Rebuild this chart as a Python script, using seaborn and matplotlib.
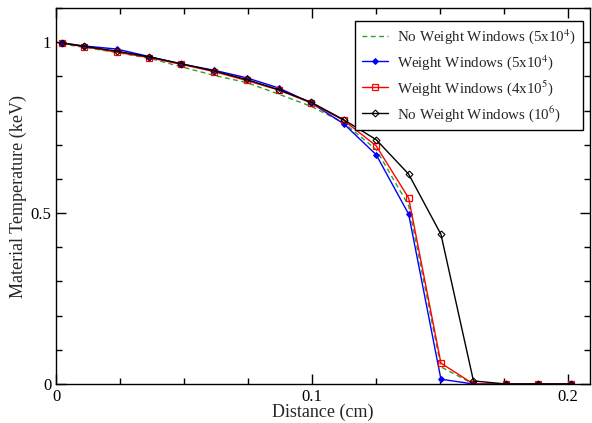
import numpy as np
import pandas as pd
import matplotlib
matplotlib.use("Agg")
import matplotlib.pyplot as plt
from matplotlib.ticker import MultipleLocator
import seaborn as sns

# Cell-centre positions (cm)
distance = [0.0023, 0.0110, 0.0237, 0.0364, 0.0490, 0.0617, 0.0744, 0.0870,
            0.0997, 0.1124, 0.1250, 0.1377, 0.1503, 0.1630, 0.1757, 0.1883, 0.2010]

# Material temperature (keV) for each run
temp_nww_5e4 = [0.995, 0.985, 0.970, 0.953, 0.928, 0.903, 0.882, 0.848,
                0.812, 0.764, 0.686, 0.522, 0.050, 0.000, 0.000, 0.000, 0.000]
temp_ww_5e4 = [0.998, 0.989, 0.980, 0.958, 0.936, 0.918, 0.896, 0.866,
               0.822, 0.761, 0.671, 0.497, 0.014, 0.000, 0.000, 0.000, 0.000]
temp_ww_4e5 = [0.997, 0.987, 0.971, 0.955, 0.935, 0.914, 0.888, 0.860,
               0.822, 0.771, 0.697, 0.544, 0.061, 0.000, 0.000, 0.000, 0.000]
temp_nww_1e6 = [0.998, 0.988, 0.974, 0.957, 0.937, 0.916, 0.891, 0.861,
                0.824, 0.773, 0.715, 0.614, 0.438, 0.009, 0.000, 0.000, 0.000]

labels = ["No Weight Windows (5x10$^4$)",
          "Weight Windows (5x10$^4$)",
          "Weight Windows (4x10$^5$)",
          "No Weight Windows (10$^6$)"]

sns.set_style("ticks")
plt.rcParams["font.family"] = ["Liberation Serif", "DejaVu Serif"]
plt.rcParams["mathtext.fontset"] = "stix"

fig = plt.figure(figsize=(5.92, 4.23), dpi=100)
ax = fig.add_axes([0.0946, 0.0922, 0.9020, 0.8888])

sns.lineplot(x=distance, y=temp_nww_5e4, ax=ax, color="#2ca02c", lw=1.0,
             linestyle=(0, (3.5, 2.5)), label=labels[0])
sns.lineplot(x=distance, y=temp_ww_5e4, ax=ax, color="#0000ff", lw=1.0,
             marker="D", markersize=3, markerfacecolor="#0000ff",
             markeredgecolor="#0000ff", label=labels[1])
sns.lineplot(x=distance, y=temp_ww_4e5, ax=ax, color="#ff0000", lw=1.0,
             marker="s", markersize=4.5, markerfacecolor="none",
             markeredgecolor="#ff0000", markeredgewidth=0.9, label=labels[2])
sns.lineplot(x=distance, y=temp_nww_1e6, ax=ax, color="black", lw=1.0,
             marker="D", markersize=3.5, markerfacecolor="none",
             markeredgecolor="black", markeredgewidth=0.8, label=labels[3])

ax.set_xlim(0, 0.2085)
ax.set_ylim(0, 1.1)
ax.set_xticks([0, 0.1, 0.2])
ax.set_xticklabels(["0", "0.1", "0.2"])
ax.set_yticks([0, 0.5, 1.0])
ax.set_yticklabels(["0", "0.5", "1"])
ax.xaxis.set_minor_locator(MultipleLocator(0.025))
ax.yaxis.set_minor_locator(MultipleLocator(0.1))
ax.tick_params(which="both", direction="in", top=True, right=True,
               labelsize=12, width=1.0, colors="black")
ax.tick_params(which="major", length=7)
ax.tick_params(which="minor", length=4)
for sp in ax.spines.values():
    sp.set_linewidth(1.0)
    sp.set_color("black")

ax.set_xlabel("Distance (cm)", fontsize=13, labelpad=-1)
ax.set_ylabel("Material Temperature (keV)", fontsize=13, labelpad=2)

leg = ax.legend(loc="upper right", fontsize=10.8, frameon=True, fancybox=False,
                edgecolor="black", framealpha=1, borderpad=0.45,
                handlelength=1.7, handletextpad=0.65, labelspacing=0.42,
                borderaxespad=0, bbox_to_anchor=(0.9866, 0.9665))
leg.get_frame().set_linewidth(1.0)

fig.savefig("out.png", dpi=100)
